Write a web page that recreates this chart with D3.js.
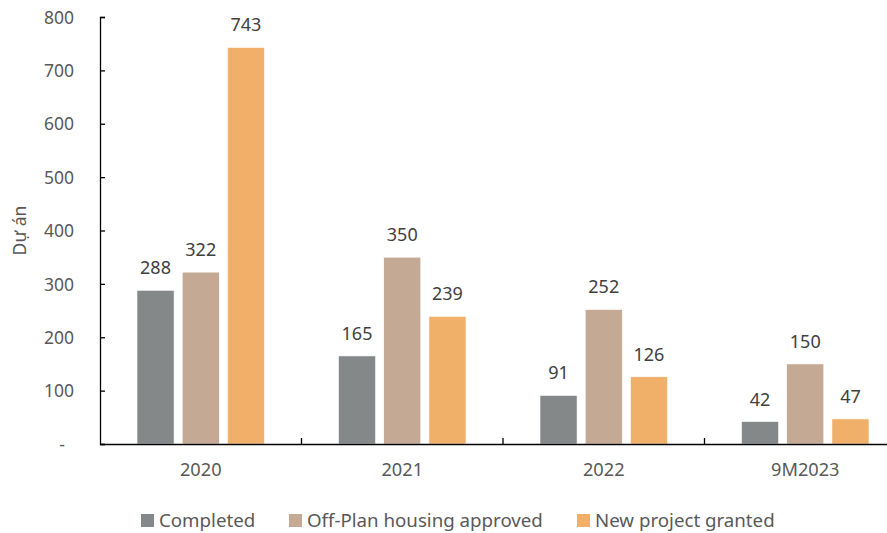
<!DOCTYPE html>
<html>
<head>
<meta charset="utf-8">
<script src="https://cdn.jsdelivr.net/npm/d3@7"></script>
<style>
  body { margin: 0; background: #fff; }
  svg { display: block; font-family: "Noto Sans", sans-serif; }
</style>
</head>
<body>
<div id="chart"></div>
<script>
// 数据
const categories = ['2020', '2021', '2022', '9M2023']
const seriesNames = ['Completed', 'Off-Plan housing approved', 'New project granted']
const completed = [288, 165, 91, 42]
const offPlan = [322, 350, 252, 150]
const newProject = [743, 239, 126, 47]
const yTicks = [0, 100, 200, 300, 400, 500, 600, 700, 800]
const colors = ['#858889', '#c4a994', '#f0b06a']

const width = 887
const height = 533
const margin = { top: 17, left: 100, bottom: 89 }
const plotRight = 906 // 原图右侧被裁切
const fontSize = 17.5

const svg = d3.select('#chart').append('svg')
  .attr('width', width)
  .attr('height', height)

const x0 = d3.scaleBand()
  .domain(categories)
  .range([margin.left, plotRight])

const x1 = d3.scaleBand()
  .domain(seriesNames)
  .range([37, x0.bandwidth() - 37])
  .paddingInner(0.18)

const y = d3.scaleLinear()
  .domain([0, 800])
  .range([height - margin.bottom, margin.top])

const data = categories.map((c, i) => ({
  cat: c,
  values: [completed[i], offPlan[i], newProject[i]]
}))

// 柱子
const groups = svg.selectAll('.grp')
  .data(data)
  .enter().append('g')
  .attr('class', 'grp')
  .attr('transform', d => `translate(${x0(d.cat)},0)`)

groups.selectAll('rect')
  .data(d => d.values.map((v, k) => ({ name: seriesNames[k], v, k })))
  .enter().append('rect')
  .attr('x', d => x1(d.name))
  .attr('y', d => y(d.v))
  .attr('width', x1.bandwidth())
  .attr('height', d => y(0) - y(d.v))
  .attr('fill', d => colors[d.k])
  .attr('stroke', '#fff')
  .attr('stroke-width', 0.6)

groups.selectAll('text')
  .data(d => d.values.map((v, k) => ({ name: seriesNames[k], v, k })))
  .enter().append('text')
  .attr('x', d => x1(d.name) + x1.bandwidth() / 2)
  .attr('y', d => y(d.v) - 16)
  .attr('text-anchor', 'middle')
  .attr('font-size', 18)
  .attr('fill', '#404040')
  .text(d => d.v)

// y轴
const yAxis = d3.axisLeft(y)
  .tickValues(yTicks)
  .tickSize(-5)
  .tickFormat(d => d === 0 ? '-' : d)

const gy = svg.append('g')
  .attr('transform', `translate(${margin.left},0)`)
  .call(yAxis)
gy.select('.domain').attr('stroke', '#000').attr('stroke-width', 1.3)
gy.selectAll('.tick line').attr('stroke', '#000').attr('stroke-width', 1.3)
gy.selectAll('.tick text')
  .attr('font-size', fontSize)
  .attr('fill', '#595959')
  .attr('font-family', '"Noto Sans", sans-serif')
  .attr('dy', '0.35em')
  .attr('text-anchor', 'end')
  .attr('x', -26)
// “-”位于0刻度处，略靠左
gy.selectAll('.tick text').filter(d => d === 0).attr('x', -35)

// x轴
const xAxis = d3.axisBottom(x0).tickSize(0).tickPadding(19)
const gx = svg.append('g')
  .attr('transform', `translate(0,${y(0)})`)
  .call(xAxis)
gx.select('.domain').attr('stroke', '#000').attr('stroke-width', 1.3)
gx.selectAll('.tick text')
  .attr('font-size', 18.2)
  .attr('fill', '#595959')
  .attr('font-family', '"Noto Sans", sans-serif')

// 分组分隔刻度
gx.selectAll('.sep')
  .data(categories.slice(1))
  .enter().append('line')
  .attr('class', 'sep')
  .attr('x1', d => x0(d))
  .attr('x2', d => x0(d))
  .attr('y1', 0)
  .attr('y2', -6)
  .attr('stroke', '#000')
  .attr('stroke-width', 1.3)

// y轴标题
svg.append('text')
  .attr('transform', `translate(26,${(y(0) + y(800)) / 2}) rotate(-90)`)
  .attr('text-anchor', 'middle')
  .attr('font-size', fontSize)
  .attr('fill', '#595959')
  .text('Dự án')

// 图例
const legendX = [141, 289, 577]
const legend = svg.selectAll('.legend')
  .data(seriesNames)
  .enter().append('g')
  .attr('class', 'legend')
  .attr('transform', (d, i) => `translate(${legendX[i]},514)`)

legend.append('rect')
  .attr('width', 13)
  .attr('height', 13)
  .attr('fill', (d, i) => colors[i])

legend.append('text')
  .attr('x', 18)
  .attr('y', 6.5)
  .attr('dy', '0.35em')
  .attr('font-size', 18.7)
  .attr('fill', '#595959')
  .text(d => d)
</script>
</body>
</html>
